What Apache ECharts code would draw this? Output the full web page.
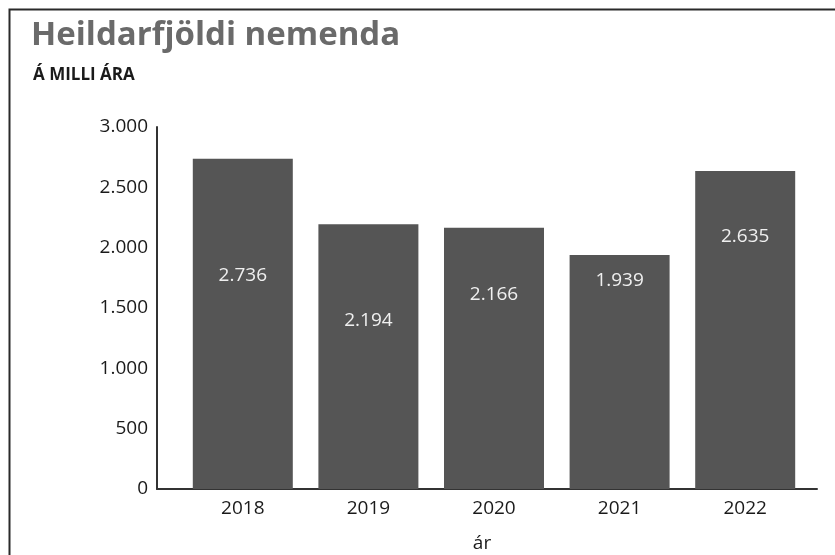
<!DOCTYPE html>
<html><head><meta charset="utf-8">
<script src="https://cdn.jsdelivr.net/npm/echarts@6/dist/echarts.min.js"></script>
<style>html,body{margin:0;padding:0;background:#fff}#c{width:835px;height:555px}</style>
</head><body><div id="c"></div>
<script>
const categories = ['2018', '2019', '2020', '2021', '2022'];
const values = [2736, 2194, 2166, 1939, 2635];
const yTicks = [0, 500, 1000, 1500, 2000, 2500, 3000];
const titleText = 'Heildarfjöldi nemenda';
const subtitleText = 'Á MILLI ÁRA';
const xName = 'ár';
// label distances from bar top (style only)
const labelDist = [107, 87, 57, 16, 56];

function fmt(v){ return String(v).replace(/\B(?=(\d{3})+(?!\d))/g, '.'); }

const chart = echarts.init(document.getElementById('c'));
const FONT = '"Open Sans", "DejaVu Sans", sans-serif';
chart.setOption({
  animation: false,
  backgroundColor: '#fff',
  title: [
    { text: titleText, left: 26, top: 14, textStyle: { fontFamily: FONT, fontSize: 33, fontWeight: 'bold', color: '#6a6a6a' } },
    { text: subtitleText, left: 28, top: 62, textStyle: { fontFamily: FONT, fontSize: 17, fontWeight: 'bold', color: '#1a1a1a' } }
  ],
  graphic: [
    { type: 'polyline', shape: { points: [[9.5, 560], [9.5, 9.5], [840, 9.5]] }, style: { stroke: '#2a2a2a', lineWidth: 2, fill: null }, silent: true }
  ],
  grid: [
    { left: 180, width: 628, top: 127, bottom: 66, containLabel: false, outerBoundsMode: 'none' },
    { left: 157, width: 660, top: 127, bottom: 66, containLabel: false, outerBoundsMode: 'none' }
  ],
  xAxis: [
    { type: 'category', gridIndex: 0, data: categories,
      axisLine: { show: false, onZero: false }, axisTick: { show: false },
      axisLabel: { fontFamily: FONT, fontSize: 19, fontWeight: 500, color: '#1a1a1a', margin: 10 } },
    { type: 'value', gridIndex: 1, min: 0, max: 1,
      axisLine: { show: true, onZero: false, lineStyle: { color: '#333', width: 2 } },
      axisTick: { show: false }, axisLabel: { show: false }, splitLine: { show: false },
      name: xName, nameLocation: 'middle', nameGap: 45,
      nameTextStyle: { fontFamily: FONT, fontSize: 19, fontWeight: 500, color: '#1a1a1a', padding: [0, 10, 0, 0] } }
  ],
  yAxis: [
    { type: 'value', gridIndex: 0, min: 0, max: 3000, interval: 500, offset: 23,
      axisLine: { show: true, lineStyle: { color: '#333', width: 2 } },
      axisTick: { show: false }, splitLine: { show: false },
      axisLabel: { fontFamily: FONT, fontSize: 19, fontWeight: 500, color: '#1a1a1a', margin: 9,
        formatter: v => yTicks.includes(v) ? fmt(v) : '' } },
    { type: 'value', gridIndex: 1, show: false, min: 0, max: 1 }
  ],
  series: [{
    type: 'bar', xAxisIndex: 0, yAxisIndex: 0,
    barWidth: 100,
    itemStyle: { color: '#555555' },
    data: values.map((v, i) => ({ value: v, label: { distance: labelDist[i] } })),
    label: { show: true, position: 'insideTop', color: '#f0f0f0', fontFamily: FONT, fontSize: 19,
      formatter: p => fmt(p.value) }
  }]
});
</script></body></html>
